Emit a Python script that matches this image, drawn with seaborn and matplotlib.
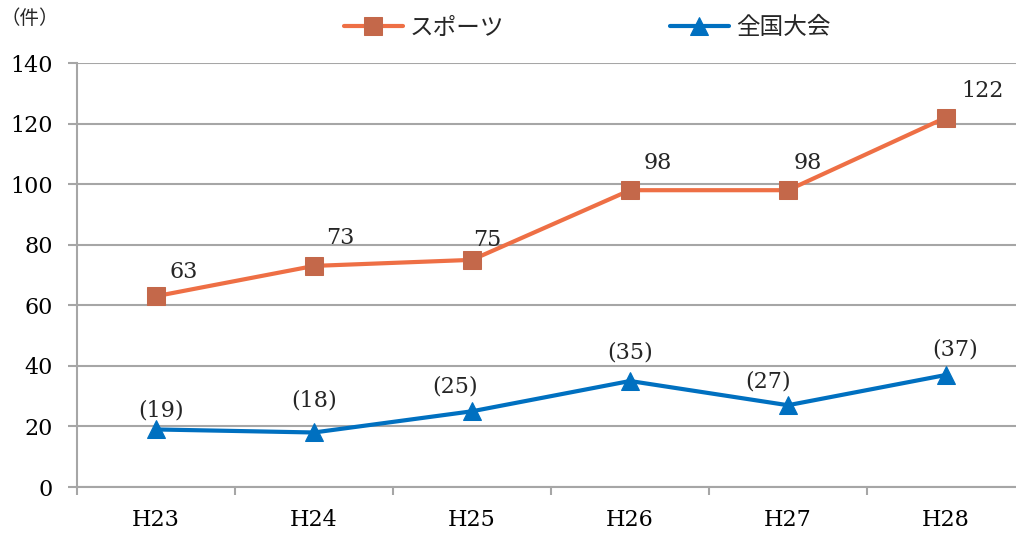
import pandas as pd
import numpy as np
import matplotlib
matplotlib.use('Agg')
import matplotlib.pyplot as plt
import seaborn as sns
from matplotlib.ticker import FixedLocator

# data
years = ['H23', 'H24', 'H25', 'H26', 'H27', 'H28']
sports = [63, 73, 75, 98, 98, 122]
national = [19, 18, 25, 35, 27, 37]
series_names = ['スポーツ', '全国大会']

df = pd.DataFrame({
    'year': years * 2,
    'count': sports + national,
    'series': [series_names[0]] * len(years) + [series_names[1]] * len(years),
})

sns.set_theme(style='white')
plt.rcParams['font.family'] = ['DejaVu Serif', 'Noto Sans CJK JP']

line_colors = {'スポーツ': '#EE6F45', '全国大会': '#0070C0'}
marker_colors = {'スポーツ': '#C4684A', '全国大会': '#0070C0'}
markers = {'スポーツ': 's', '全国大会': '^'}

dpi = 100
fig = plt.figure(figsize=(10.16, 5.38), dpi=dpi)
ax = fig.add_axes([77 / 1016, 51 / 538, 948 / 1016, 424 / 538])

for name in series_names:
    sub = df[df['series'] == name]
    sns.lineplot(data=sub, x='year', y='count', ax=ax, color=line_colors[name],
                 linewidth=3.0, marker=markers[name], markersize=13,
                 markerfacecolor=marker_colors[name], markeredgecolor=marker_colors[name],
                 label=name, sort=False)

# label offsets in pixels (dx, dy)
px = 72 / dpi
off_sports = [(28, 24), (26, 28), (15, 20), (28, 27), (20, 27), (36, 27)]
off_nat = [(5, 19), (0, 32), (-17, 25), (0, 28), (-20, 24), (9, 25)]
for i, v in enumerate(sports):
    ax.annotate(str(v), (i, v), xytext=(off_sports[i][0] * px, off_sports[i][1] * px),
                textcoords='offset points', ha='center', va='center', fontsize=16,
                family=['DejaVu Serif'])
for i, v in enumerate(national):
    ax.annotate('(%d)' % v, (i, v), xytext=(off_nat[i][0] * px, off_nat[i][1] * px),
                textcoords='offset points', ha='center', va='center', fontsize=16,
                family=['DejaVu Serif'])

ax.set_xlim(-0.5, len(years) - 0.5)
ax.set_ylim(0, 140)
ax.set_yticks(np.arange(0, 141, 20))
ax.set_xlabel('')
ax.set_ylabel('')

grid_c = '#A6A6A6'
ax.yaxis.grid(True, color=grid_c, linewidth=1.5)
ax.xaxis.grid(False)
ax.set_axisbelow(True)
for s in ['top', 'right']:
    ax.spines[s].set_visible(False)
for s in ['left', 'bottom']:
    ax.spines[s].set_color(grid_c)
    ax.spines[s].set_linewidth(1.5)

ax.xaxis.set_minor_locator(FixedLocator(np.arange(-0.5, len(years), 1.0)))
ax.tick_params(axis='x', which='major', length=0, pad=16, labelsize=16, labelcolor='black')
ax.tick_params(axis='x', which='minor', direction='out', length=6, width=1.5, color=grid_c, bottom=True)
ax.tick_params(axis='y', which='major', direction='out', length=6.5, width=1.5, color=grid_c,
               left=True, pad=11, labelsize=16, labelcolor='black')

ax.get_legend().remove()
handles, labels = ax.get_legend_handles_labels()
fig.legend(handles, labels, loc='center', bbox_to_anchor=(587 / 1016, 1 - 28 / 538),
           ncol=2, frameon=False, handlelength=2.5, handletextpad=0.3, columnspacing=7.0,
           prop={'family': ['Noto Sans CJK JP'], 'size': 17})

fig.text(30 / 1016, 1 - 19 / 538, '（件）', ha='center', va='center', fontsize=14,
         family=['Noto Sans CJK JP'])

fig.savefig('out.png', dpi=dpi)
